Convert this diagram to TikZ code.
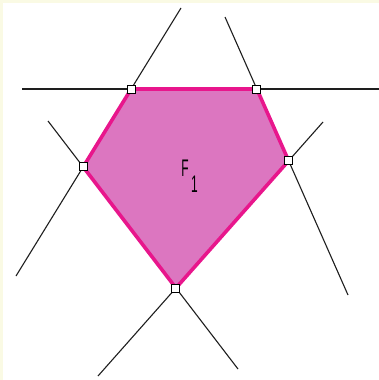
\documentclass[tikz,border=0pt]{standalone}
\usepackage{fontspec}
\setsansfont{Liberation Sans}
\usepackage{xcolor}
\usepackage{tikz}
\definecolor{frameyellow}{RGB}{250, 250, 228}
\definecolor{facepink}{RGB}{220, 118, 192}
\definecolor{edgepink}{RGB}{232, 22, 140}
\definecolor{linegray}{RGB}{30, 30, 30}

\begin{document}
\begin{tikzpicture}[
    x=1pt, y=-1pt,
    bline/.style={draw=linegray, line width=1.1pt},
    face/.style={fill=facepink, draw=edgepink, line width=3.6pt, line join=round},
    vtx/.style={rectangle, draw=black, fill=white, line width=0.9pt,
                minimum size=8pt, inner sep=0pt},
    lbl/.style={font=\sffamily\fontsize{24}{24}\selectfont, inner sep=0pt},
]

% frame
\fill[frameyellow] (0,0) rectangle (379,380);
\fill[white] (2.5,2.5) rectangle (379,380);
\useasboundingbox (0,0) rectangle (379,380);

% line ends
\coordinate (t1) at (181,8);   \coordinate (b1) at (16,276);
\coordinate (t2) at (225,17);  \coordinate (b2) at (348,295);
\coordinate (t3) at (48,121);  \coordinate (b3) at (238,369);
\coordinate (t4) at (323,122); \coordinate (b4) at (98,376);
\coordinate (h1) at (22,89);   \coordinate (h2) at (379,89);

% vertices of F1
\coordinate (A) at (intersection of t1--b1 and h1--h2);
\coordinate (B) at (intersection of t2--b2 and h1--h2);
\coordinate (C) at (intersection of t2--b2 and t4--b4);
\coordinate (D) at (intersection of t3--b3 and t4--b4);
\coordinate (E) at (intersection of t1--b1 and t3--b3);

\draw[bline] (h1) -- (h2);
\draw[bline] (t1) -- (b1);
\draw[bline] (t2) -- (b2);
\draw[bline] (t3) -- (b3);
\draw[bline] (t4) -- (b4);

\path[face] (A) -- (B) -- (C) -- (D) -- (E) -- cycle;

\foreach \v in {A,B,C,D,E}
  \node[vtx] (box\v) at (\v) {};

\node[lbl] (face1) at (189.5,176) {\scalebox{0.5}[1]{F\hspace{5pt}\raisebox{-16pt}{1}}};

\end{tikzpicture}
\end{document}
